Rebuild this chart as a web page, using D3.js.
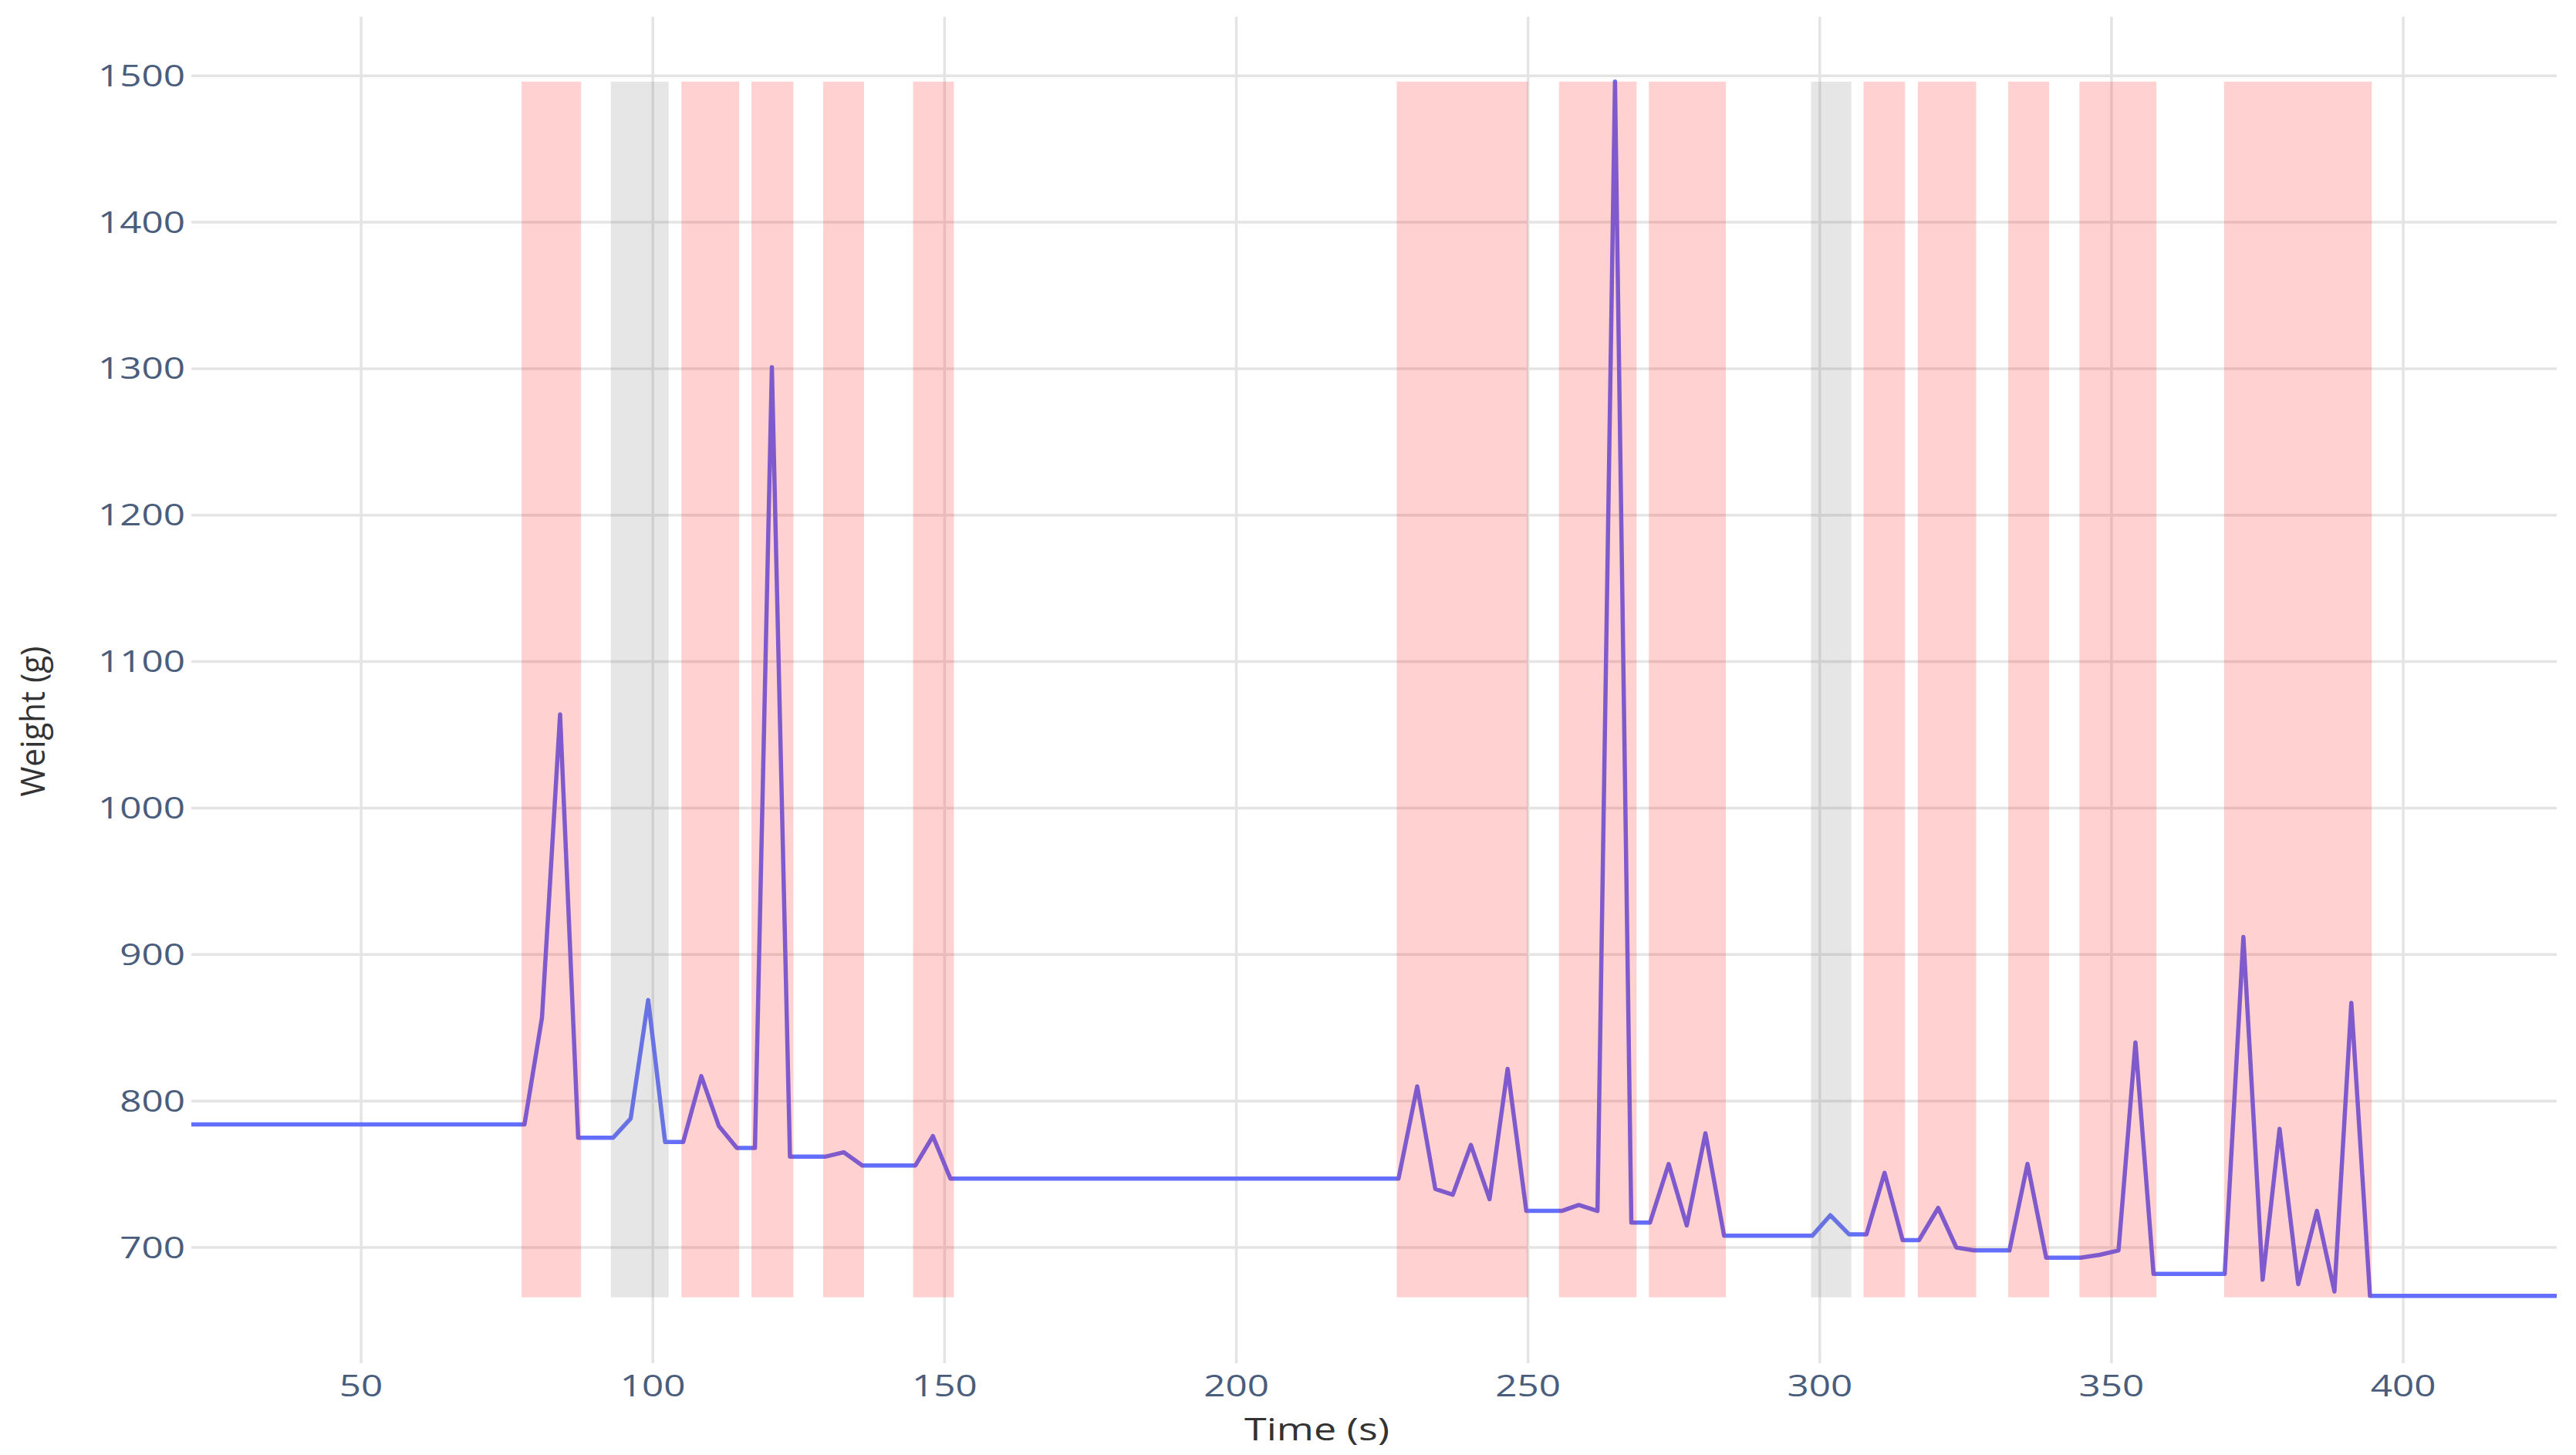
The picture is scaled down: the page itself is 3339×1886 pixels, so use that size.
<!DOCTYPE html>
<html>
<head>
<meta charset="utf-8">
<script src="https://cdn.jsdelivr.net/npm/d3@7"></script>
<style>
  html, body { margin: 0; padding: 0; background: #fff; }
  svg { display: block; }
</style>
</head>
<body>
<svg id="chart" width="3339" height="1886"></svg>
<script>
// ---- data ----
const times = [20.9, 78, 81, 84.1, 87.2, 93.2, 96.2, 99.2, 102.1, 105.2, 108.3, 111.3, 114.4, 117.5, 120.4, 123.5, 129.5, 132.7, 135.9, 145, 148, 151,
  227.8, 231, 234.1, 237.1, 240.2, 243.4, 246.5, 249.7, 255.8, 258.7, 261.9, 264.9, 267.7, 270.9, 274.1, 277.2, 280.4, 283.6,
  298.7, 301.8, 305, 308, 311.1, 314.2, 317, 320.3, 323.4, 326.4, 332.5, 335.6, 338.8, 344.7, 348, 351.2, 354.1, 357.2,
  369.4, 372.6, 375.9, 378.8, 382, 385.2, 388.2, 391.1, 394.3, 426.3];
const weights = [784, 784, 857, 1064, 775, 775, 788, 869, 772, 772, 817, 783, 768, 768, 1301, 762, 762, 765, 756, 756, 776, 747,
  747, 810, 740, 736, 770, 733, 822, 725, 725, 729, 725, 1496, 717, 717, 757, 715, 778, 708,
  708, 722, 709, 709, 751, 705, 705, 727, 700, 698, 698, 757, 693, 693, 695, 698, 840, 682,
  682, 912, 678, 781, 675, 725, 670, 867, 667, 667];

const pinkStarts = [77.5, 104.9, 116.9, 129.2, 144.6, 227.5, 255.3, 270.7, 307.5, 316.8, 332.3, 344.5, 369.3];
const pinkEnds   = [87.7, 114.8, 124.1, 136.2, 151.6, 250.0, 268.6, 283.9, 314.6, 326.8, 339.3, 357.7, 394.6];
const grayStarts = [92.8, 298.5];
const grayEnds   = [102.7, 305.4];
const bandLow = 666, bandHigh = 1496;

const xTicks = [50, 100, 150, 200, 250, 300, 350, 400];
const yTicks = [700, 800, 900, 1000, 1100, 1200, 1300, 1400, 1500];
const xTitle = "Time (s)";
const yTitle = "Weight (g)";

// ---- layout ----
const L = 248, R = 3314, T = 21.7, B = 1767;
const STRETCH = 1.3;
const svg = d3.select("#chart");

const x = d3.scaleLinear().domain([20.9, 426.3]).range([L, R]);
const y = d3.scaleLinear().domain([621, 1540.3]).range([B, T]);

// gridlines
const gGrid = svg.append("g");
gGrid.selectAll("line.xg").data(xTicks).join("line")
  .attr("x1", d => x(d)).attr("x2", d => x(d))
  .attr("y1", T).attr("y2", B)
  .attr("stroke", "#e4e4e4").attr("stroke-width", 3.5);
gGrid.selectAll("line.yg").data(yTicks).join("line")
  .attr("x1", L).attr("x2", R)
  .attr("y1", d => y(d)).attr("y2", d => y(d))
  .attr("stroke", "#e4e4e4").attr("stroke-width", 3.5);

// line
const pts = times.map((t, i) => [t, weights[i]]);
svg.append("path")
  .datum(pts)
  .attr("fill", "none")
  .attr("stroke", "#636efa")
  .attr("stroke-width", 5.5)
  .attr("stroke-linejoin", "round")
  .attr("d", d3.line().x(d => x(d[0])).y(d => y(d[1])));

// bands drawn above, semi-transparent
const pink = pinkStarts.map((s, i) => [s, pinkEnds[i]]);
const gray = grayStarts.map((s, i) => [s, grayEnds[i]]);
svg.append("g").selectAll("rect").data(pink).join("rect")
  .attr("x", d => x(d[0])).attr("width", d => x(d[1]) - x(d[0]))
  .attr("y", y(bandHigh)).attr("height", y(bandLow) - y(bandHigh))
  .attr("fill", "rgb(255,0,0)").attr("fill-opacity", 0.18);
svg.append("g").selectAll("rect").data(gray).join("rect")
  .attr("x", d => x(d[0])).attr("width", d => x(d[1]) - x(d[0]))
  .attr("y", y(bandHigh)).attr("height", y(bandLow) - y(bandHigh))
  .attr("fill", "rgb(128,128,128)").attr("fill-opacity", 0.2);

// tick labels
const tickFont = "'Open Sans', 'DejaVu Sans', sans-serif";
svg.append("g").selectAll("text").data(xTicks).join("text")
  .attr("transform", d => `translate(${x(d)},1810) scale(${STRETCH},1)`)
  .attr("text-anchor", "middle")
  .attr("font-family", tickFont).attr("font-size", 38)
  .attr("fill", "#4a5d7c")
  .text(d => d);
svg.append("g").selectAll("text").data(yTicks).join("text")
  .attr("transform", d => `translate(240,${y(d) + 13.5}) scale(${STRETCH},1)`)
  .attr("text-anchor", "end")
  .attr("font-family", tickFont).attr("font-size", 38)
  .attr("fill", "#4a5d7c")
  .text(d => d);

// axis titles
svg.append("text")
  .attr("transform", `translate(1707,1867) scale(${STRETCH},1)`)
  .attr("text-anchor", "middle")
  .attr("font-family", tickFont).attr("font-size", 40)
  .attr("fill", "#333")
  .text(xTitle);
svg.append("text")
  .attr("transform", `translate(58,935) scale(1.05,1) rotate(-90)`)
  .attr("text-anchor", "middle")
  .attr("font-family", tickFont).attr("font-size", 42)
  .attr("fill", "#333")
  .text(yTitle);
</script>
</body>
</html>
